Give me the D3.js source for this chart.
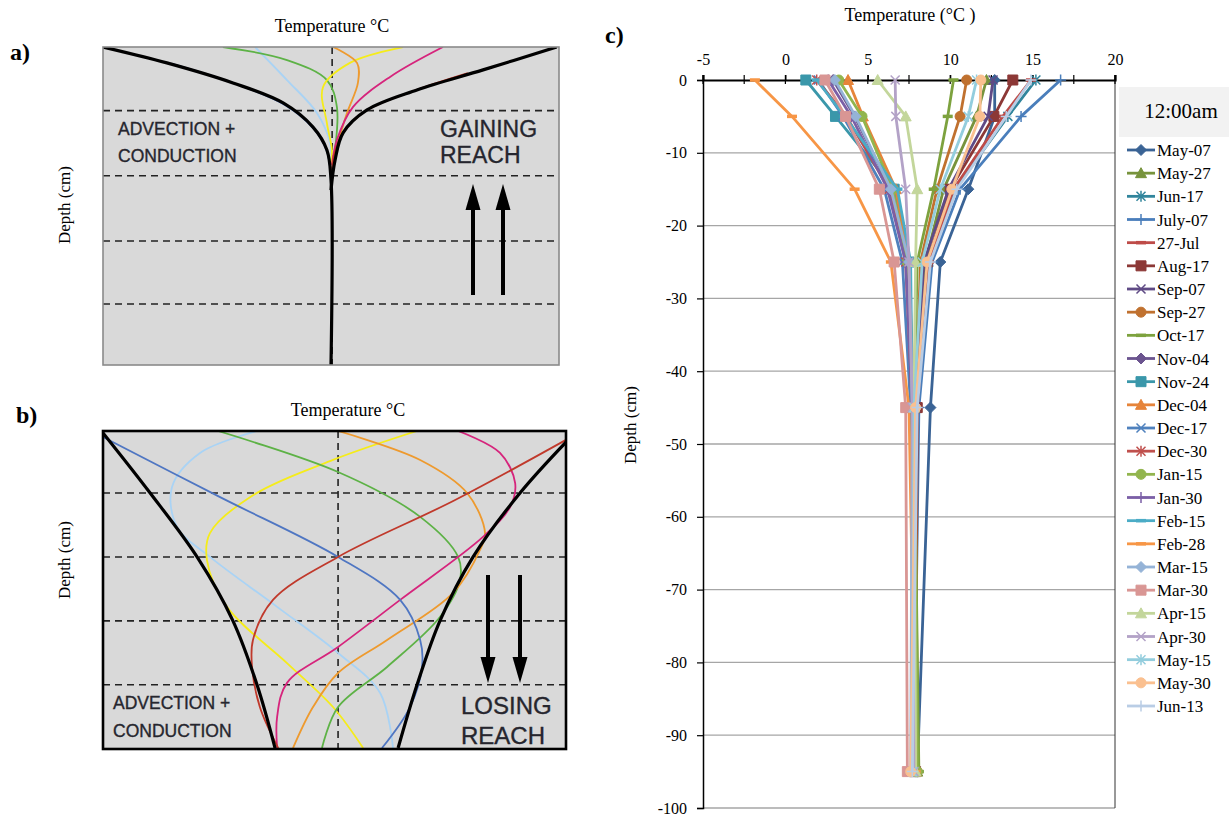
<!DOCTYPE html>
<html>
<head>
<meta charset="utf-8">
<script src="https://cdn.jsdelivr.net/npm/d3@7"></script>
<style>
  html, body { margin: 0; padding: 0; background: #ffffff; }
  svg { display: block; }
  .axis text { font-family: 'Liberation Serif','Times New Roman',serif; }
</style>
</head>
<body>
<svg id="fig" width="1229" height="819"></svg>
<script>
// ---------- Panel c: measured temperature profiles ----------
const depths = [0, -5, -15, -25, -45, -95];
const dates = ["May-07","May-27","Jun-17","July-07","27-Jul","Aug-17","Sep-07","Sep-27","Oct-17",
  "Nov-04","Nov-24","Dec-04","Dec-17","Dec-30","Jan-15","Jan-30","Feb-15","Feb-28",
  "Mar-15","Mar-30","Apr-15","Apr-30","May-15","May-30","Jun-13"];
// temperature (°C) at each depth, one row per date
const profiles = [
  [12.7, 12.7, 11.1, 9.4, 8.8, 8.0],   // May-07
  [12.2, 11.6, 9.6, 8.5, 7.9, 8.0],    // May-27
  [15.2, 13.5, 10.3, 8.7, 8.0, 7.8],   // Jun-17
  [16.7, 14.3, 10.6, 8.9, 8.1, 7.8],   // July-07
  [14.9, 13.2, 10.2, 8.7, 8.0, 7.8],   // 27-Jul
  [13.8, 12.65, 10.0, 8.6, 8.0, 7.9],  // Aug-17
  [12.6, 12.3, 9.9, 8.4, 7.9, 7.9],    // Sep-07
  [11.0, 10.6, 9.2, 8.2, 7.9, 8.0],    // Sep-27
  [10.2, 9.85, 9.0, 8.0, 7.8, 8.1],    // Oct-17
  [2.9, 4.2, 6.4, 7.4, 7.7, 7.9],      // Nov-04
  [1.24, 3.04, 6.6, 7.5, 7.7, 7.8],    // Nov-24
  [3.8, 4.7, 6.7, 7.5, 7.8, 7.9],      // Dec-04
  [2.0, 3.5, 6.0, 7.1, 7.6, 7.8],      // Dec-17
  [1.9, 3.7, 6.3, 7.3, 7.7, 7.8],      // Dec-30
  [3.24, 4.65, 6.5, 7.4, 7.8, 8.0],    // Jan-15
  [2.6, 4.0, 6.2, 7.3, 7.7, 7.8],      // Jan-30
  [1.9, 3.6, 6.8, 7.6, 7.7, 7.8],      // Feb-15
  [-1.85, 0.4, 4.2, 6.4, 7.5, 7.9],    // Feb-28
  [3.0, 4.26, 6.4, 7.5, 7.7, 7.6],     // Mar-15
  [2.4, 3.65, 5.7, 6.6, 7.3, 7.4],     // Mar-30
  [5.6, 7.3, 8.0, 7.9, 7.8, 7.9],      // Apr-15
  [6.66, 6.7, 7.3, 7.5, 7.7, 7.8],     // Apr-30
  [11.6, 11.1, 9.4, 8.3, 7.8, 7.7],    // May-15
  [11.86, 11.8, 10.1, 8.6, 7.9, 7.6],  // May-30
  [14.9, 13.4, 10.4, 8.8, 8.0, 7.7]    // Jun-13
];
const xTicks = [-5, 0, 5, 10, 15, 20];
const yTicks = [0, -10, -20, -30, -40, -50, -60, -70, -80, -90, -100];

// series styling
const seriesColors = ["#3A6395","#77933C","#31859C","#4A7EBB","#BE4B48","#8C3836","#5F4A85","#C0712F","#7DA23E",
  "#6B548F","#3A97AA","#E6843A","#4F81BD","#C0504D","#92B54E","#7B5FA6","#4BACC6","#F79646",
  "#95B3D7","#D99694","#C3D69B","#B3A2C7","#93CDDD","#FAC090","#B9CDE5"];
const seriesMarkers = ["diamond","triangle","asterisk","plus","dash","square","x","circle","dash",
  "diamond","square","triangle","x","asterisk","circle","plus","dash","dash",
  "diamond","square","triangle","x","asterisk","circle","plus"];

// ---------- Panels a & b: schematic envelopes (normalised temperature, relative depth) ----------
const gainEnvLeft  = [[-1,0],[-0.72,0.05],[-0.43,0.113],[-0.21,0.176],[-0.079,0.252],[-0.018,0.324],[0,0.418],[0,1]];
const gainEnvRight = [[0.99,0],[0.667,0.072],[0.377,0.135],[0.158,0.198],[0.053,0.27],[0.018,0.355],[0,0.45]];
const gainCurves = [
  {c:"#4F76C2", p:[[-0.7,0.052],[-0.41,0.118],[-0.2,0.183],[-0.075,0.258],[-0.017,0.33],[0,0.42]]},
  {c:"#A9D3F5", p:[[-0.333,0],[-0.193,0.104],[-0.061,0.208],[-0.004,0.302],[0,0.36]]},
  {c:"#5DB246", p:[[-0.474,0],[-0.193,0.041],[-0.018,0.104],[0.026,0.189],[0.018,0.324],[0.004,0.4]]},
  {c:"#F5EC1A", p:[[0.316,0],[0.083,0.05],[-0.035,0.126],[-0.018,0.239],[0.004,0.324],[0,0.37]]},
  {c:"#EE9A2E", p:[[0.009,0],[0.114,0.05],[0.118,0.113],[0.07,0.208],[0.026,0.314],[0.004,0.387]]},
  {c:"#D6247C", p:[[0.491,0],[0.259,0.094],[0.096,0.189],[0.026,0.292],[0.004,0.371]]},
  {c:"#C0392B", p:[[0.6,0.082],[0.355,0.14],[0.148,0.203],[0.048,0.275],[0.014,0.34],[0.003,0.4]]}
];
const loseEnvLeft  = [[-1.022,0.006],[-0.817,0.195],[-0.613,0.396],[-0.457,0.597],[-0.352,0.799],[-0.274,0.997]];
const loseEnvRight = [[0.991,0.035],[0.791,0.195],[0.587,0.396],[0.443,0.597],[0.343,0.799],[0.261,0.997]];
const loseCurves = [
  {c:"#A9D3F5", p:[[-0.352,0],[-0.6,0.069],[-0.722,0.176],[-0.7,0.302],[-0.557,0.396],[-0.265,0.553],[0,0.698],[0.183,0.824],[0.239,0.997]]},
  {c:"#F5EC1A", p:[[0.343,0],[-0.022,0.091],[-0.383,0.208],[-0.557,0.321],[-0.57,0.406],[-0.483,0.553],[-0.222,0.73],[-0.022,0.868],[0.109,0.997]]},
  {c:"#5DB246", p:[[-0.522,0],[0,0.129],[0.357,0.27],[0.522,0.396],[0.53,0.469],[0.443,0.585],[0.213,0.742],[0,0.868],[-0.07,0.997]]},
  {c:"#EE9A2E", p:[[0,0],[0.357,0.091],[0.561,0.195],[0.639,0.321],[0.617,0.374],[0.5,0.509],[0.213,0.657],[0,0.761],[-0.109,0.868],[-0.196,0.997]]},
  {c:"#D6247C", p:[[0.522,0],[0.704,0.069],[0.77,0.164],[0.748,0.239],[0.63,0.333],[0.27,0.531],[0,0.679],[-0.222,0.792],[-0.265,0.899],[-0.265,0.997]]},
  {c:"#4F76C2", p:[[-1.022,0.019],[-0.513,0.208],[0,0.396],[0.27,0.531],[0.357,0.657],[0.365,0.742],[0.313,0.868],[0.191,0.997]]},
  {c:"#C0392B", p:[[0.991,0.028],[0.509,0.217],[0,0.396],[-0.283,0.531],[-0.37,0.657],[-0.374,0.742],[-0.34,0.868],[-0.26,0.997]]}
];
const layerDepthsA = [0.2, 0.405, 0.61, 0.808];
const layerDepthsB = [0.195, 0.396, 0.597, 0.798];

const svg = d3.select("#fig");
const serif = "'Liberation Serif','Times New Roman',serif";
const sans = "'Liberation Sans',Arial,sans-serif";

// ---------- draw schematic panels ----------
function schematic(opts) {
  const g = svg.append("g");
  const x = d3.scaleLinear().domain(opts.xDomain).range([opts.left, opts.right]);
  const y = d3.scaleLinear().domain([0, 1]).range([opts.top, opts.bottom]);
  const clipId = "clip-" + opts.id;
  svg.append("clipPath").attr("id", clipId).append("rect")
    .attr("x", opts.left).attr("y", opts.top)
    .attr("width", opts.right - opts.left).attr("height", opts.bottom - opts.top);
  g.append("rect").attr("x", opts.left).attr("y", opts.top)
    .attr("width", opts.right - opts.left).attr("height", opts.bottom - opts.top)
    .attr("fill", "#D9D9D9");
  const inner = g.append("g").attr("clip-path", `url(#${clipId})`);
  opts.layers.forEach(d => {
    inner.append("line").attr("x1", opts.left).attr("x2", opts.right)
      .attr("y1", y(d)).attr("y2", y(d))
      .attr("stroke", "#222").attr("stroke-width", 1.6).attr("stroke-dasharray", "7,5");
  });
  inner.append("line").attr("x1", x(opts.centre)).attr("x2", x(opts.centre))
    .attr("y1", opts.top).attr("y2", opts.bottom)
    .attr("stroke", "#222").attr("stroke-width", 1.6).attr("stroke-dasharray", "7,5");
  const line = d3.line().x(d => x(d[0])).y(d => y(d[1])).curve(d3.curveCatmullRom.alpha(0.5));
  opts.curves.forEach(cv => {
    inner.append("path").attr("d", line(cv.p)).attr("fill", "none")
      .attr("stroke", cv.c).attr("stroke-width", 1.8);
  });
  opts.envelopes.forEach(env => {
    inner.append("path").attr("d", line(env)).attr("fill", "none")
      .attr("stroke", "#000").attr("stroke-width", 3.2);
  });
  g.append("rect").attr("x", opts.left).attr("y", opts.top)
    .attr("width", opts.right - opts.left).attr("height", opts.bottom - opts.top)
    .attr("fill", "none").attr("stroke", opts.border).attr("stroke-width", opts.borderWidth);
  // flow arrows
  opts.arrows.forEach(ax => {
    const y0 = opts.arrowFrom, y1 = opts.arrowTo;
    const dir = Math.sign(y1 - y0);
    g.append("line").attr("x1", ax).attr("x2", ax).attr("y1", y0).attr("y2", y1 - dir * 22)
      .attr("stroke", "#000").attr("stroke-width", 4);
    g.append("path").attr("d", `M${ax},${y1} L${ax - 7.5},${y1 - dir * 26} L${ax + 7.5},${y1 - dir * 26} Z`)
      .attr("fill", "#000");
  });
  return g;
}

function label(g, x, y, s, size) {
  g.append("text").attr("x", x).attr("y", y).text(s)
    .attr("font-family", sans).attr("font-size", size).attr("fill", "#26262e")
    .attr("stroke", "#26262e").attr("stroke-width", 0.35);
}

const ga = schematic({
  id: "a", left: 103, right: 559, top: 47, bottom: 365, xDomain: [-1, 1], centre: 0.005,
  layers: layerDepthsA, curves: gainCurves, envelopes: [gainEnvLeft, gainEnvRight],
  border: "#8a8a8a", borderWidth: 1.6, arrows: [473, 503], arrowFrom: 295, arrowTo: 184
});
label(ga, 118, 135, "ADVECTION +", 17.5);
label(ga, 118, 162, "CONDUCTION", 17.5);
label(ga, 440, 137, "GAINING", 23);
label(ga, 440, 163, "REACH", 23);

const gb = schematic({
  id: "b", left: 103, right: 566, top: 431, bottom: 749, xDomain: [-1.022, 0.991], centre: 0,
  layers: layerDepthsB, curves: loseCurves, envelopes: [loseEnvLeft, loseEnvRight],
  border: "#000", borderWidth: 2.6, arrows: [488, 520], arrowFrom: 575, arrowTo: 683
});
label(gb, 113, 709, "ADVECTION +", 17.5);
label(gb, 113, 737, "CONDUCTION", 17.5);
label(gb, 461, 714, "LOSING", 24);
label(gb, 461, 744, "REACH", 24);

// panel titles / labels
function txt(x, y, s, size, opts = {}) {
  const t = svg.append("text").attr("x", x).attr("y", y).text(s)
    .attr("font-family", serif).attr("font-size", size).attr("fill", "#000")
    .attr("text-anchor", opts.anchor || "start");
  if (opts.bold) t.attr("font-weight", "bold");
  if (opts.rotate) t.attr("transform", `rotate(-90,${x},${y})`);
  return t;
}
txt(332, 32, "Temperature °C", 18, {anchor: "middle"});
txt(348, 416, "Temperature °C", 18, {anchor: "middle"});
txt(70, 205, "Depth (cm)", 17, {anchor: "middle", rotate: true});
txt(70, 560, "Depth (cm)", 17, {anchor: "middle", rotate: true});
txt(10, 60, "a)", 24, {bold: true});
txt(16, 423, "b)", 24, {bold: true});
txt(605, 43, "c)", 24, {bold: true});

// ---------- panel c ----------
const X0 = 703, X1 = 1115, Y0 = 80, Y1 = 808;
const x = d3.scaleLinear().domain([-5, 20]).range([X0, X1]);
const y = d3.scaleLinear().domain([0, -100]).range([Y0, Y1]);
const fmt = d => String(d);

const gc = svg.append("g");
// horizontal gridlines
gc.selectAll("line.grid").data(yTicks.filter(d => d !== 0)).join("line")
  .attr("x1", X0).attr("x2", X1).attr("y1", d => y(d)).attr("y2", d => y(d))
  .attr("stroke", "#A6A6A6").attr("stroke-width", 1.3);
// right border
gc.append("line").attr("x1", X1).attr("x2", X1).attr("y1", 75).attr("y2", Y1)
  .attr("stroke", "#333").attr("stroke-width", 1);

// left axis
const yAxis = gc.append("g").attr("class", "axis").attr("transform", `translate(${X0},0)`)
  .call(d3.axisLeft(y).tickValues(yTicks).tickSize(6).tickPadding(10).tickFormat(fmt))
  .attr("font-family", serif).attr("font-size", 16);
yAxis.select(".domain").attr("stroke", "#000").attr("stroke-width", 1.5);
yAxis.selectAll(".tick line").attr("stroke", "#000").attr("stroke-width", 1.2);
yAxis.selectAll("text").attr("fill", "#000");

// top axis (crosses at depth 0)
const minorX = d3.range(-5, 20.01, 2.5);
gc.selectAll("line.minor").data(minorX).join("line")
  .attr("x1", d => x(d)).attr("x2", d => x(d)).attr("y1", Y0 - 5).attr("y2", Y0 + 4)
  .attr("stroke", "#000").attr("stroke-width", 1.2);
const xAxis = gc.append("g").attr("class", "axis").attr("transform", `translate(0,${Y0})`)
  .call(d3.axisTop(x).tickValues(xTicks).tickSize(5).tickPadding(10).tickFormat(fmt))
  .attr("font-family", serif).attr("font-size", 16);
xAxis.select(".domain").attr("stroke", "#000").attr("stroke-width", 2.2);
xAxis.selectAll(".tick line").attr("stroke", "#000").attr("stroke-width", 1.2);
xAxis.selectAll("text").attr("fill", "#000");

txt(910, 21, "Temperature (°C )", 18, {anchor: "middle"});
txt(636, 425, "Depth (cm)", 17, {anchor: "middle", rotate: true});

// marker shapes
function markerPath(type) {
  switch (type) {
    case "diamond": return "M0,-5.5L5.5,0L0,5.5L-5.5,0Z";
    case "square": return "M-5,-5H5V5H-5Z";
    case "triangle": return "M0,-5.5L5.5,4.5L-5.5,4.5Z";
    case "circle": return "M5,0A5,5 0 1,1 -5,0A5,5 0 1,1 5,0Z";
    case "x": return "M-4.5,-4.5L4.5,4.5M-4.5,4.5L4.5,-4.5";
    case "asterisk": return "M-4.5,-4.5L4.5,4.5M-4.5,4.5L4.5,-4.5M0,-5.5V5.5";
    case "plus": return "M0,-5.5V5.5M-5.5,0H5.5";
    case "dash": return "M-5,0H5";
  }
}
function drawMarker(sel, type, color) {
  const filled = ["diamond","square","triangle","circle"].includes(type);
  sel.attr("d", markerPath(type))
    .attr("fill", filled ? color : "none")
    .attr("stroke", color)
    .attr("stroke-width", filled ? 1 : (type === "dash" ? 3.5 : 1.5));
}

const line = d3.line().x(d => x(d[0])).y(d => y(d[1]));
const seriesG = gc.append("g");
profiles.forEach((vals, i) => {
  const pts = vals.map((v, k) => [v, depths[k]]);
  const s = seriesG.append("g");
  s.append("path").attr("d", line(pts)).attr("fill", "none")
    .attr("stroke", seriesColors[i]).attr("stroke-width", 2.8).attr("stroke-linejoin", "round");
  s.selectAll("path.m").data(pts).join("path").attr("class", "m")
    .attr("transform", d => `translate(${x(d[0])},${y(d[1])})`)
    .call(drawMarker, seriesMarkers[i], seriesColors[i]);
});

// legend
const lg = svg.append("g");
lg.append("rect").attr("x", 1119).attr("y", 87).attr("width", 110).attr("height", 50).attr("fill", "#F2F2F2");
lg.append("text").attr("x", 1181).attr("y", 118).text("12:00am")
  .attr("font-family", serif).attr("font-size", 21).attr("text-anchor", "middle").attr("fill", "#000");
const legendY = d3.scaleLinear().domain([0, dates.length - 1]).range([150, 706]);
dates.forEach((dname, i) => {
  const yy = legendY(i);
  lg.append("line").attr("x1", 1127).attr("x2", 1155).attr("y1", yy).attr("y2", yy)
    .attr("stroke", seriesColors[i]).attr("stroke-width", 2.8);
  lg.append("path").attr("transform", `translate(1141,${yy})`).call(drawMarker, seriesMarkers[i], seriesColors[i]);
  lg.append("text").attr("x", 1157).attr("y", yy + 6).text(dname)
    .attr("font-family", serif).attr("font-size", 17).attr("fill", "#000");
});
</script>
</body>
</html>
